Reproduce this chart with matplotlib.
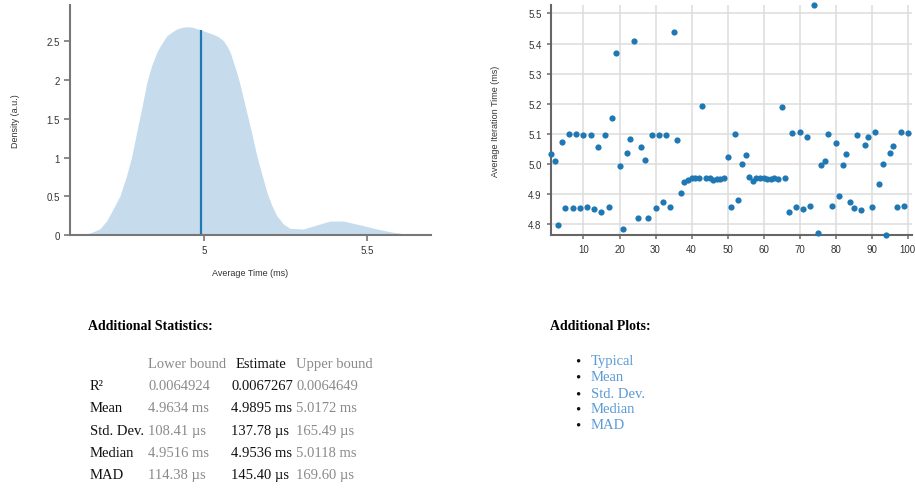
import matplotlib.pyplot as plt
import numpy as np

# density estimate (ms, a.u.)
dens_t = [4.600, 4.624, 4.650, 4.680, 4.701, 4.721, 4.742, 4.762, 4.778, 4.793,
          4.808, 4.824, 4.839, 4.855, 4.865, 4.885, 4.901, 4.916, 4.931, 4.947,
          4.967, 4.988, 5.008, 5.029, 5.044, 5.059, 5.070, 5.080, 5.090, 5.100,
          5.111, 5.131, 5.147, 5.162, 5.177, 5.193, 5.208, 5.223, 5.244, 5.264,
          5.305, 5.346, 5.387, 5.428, 5.480, 5.531, 5.582, 5.628, 5.640]
dens_y = [0.0, 0.005, 0.026, 0.08, 0.185, 0.34, 0.51, 0.77, 1.02, 1.33,
          1.63, 1.97, 2.19, 2.36, 2.44, 2.57, 2.62, 2.66, 2.68, 2.69,
          2.68, 2.65, 2.62, 2.59, 2.56, 2.51, 2.44, 2.36, 2.23, 2.10,
          1.93, 1.58, 1.30, 1.02, 0.79, 0.55, 0.38, 0.25, 0.14, 0.086,
          0.077, 0.13, 0.18, 0.18, 0.13, 0.077, 0.034, 0.009, 0.0]
mean_est = 4.9895

# average iteration time per sample (ms)
iters = list(range(1, 101))
times = [5.033, 5.011, 4.797, 5.074, 4.853, 5.100, 4.853, 5.100, 4.853, 5.097,
         4.856, 5.097, 4.850, 5.057, 4.841, 5.097, 4.856, 5.153, 5.367, 4.994,
         4.783, 5.037, 5.084, 5.407, 4.820, 5.057, 5.014, 4.820, 5.097, 4.853,
         5.097, 4.873, 5.097, 4.856, 5.437, 5.080, 4.903, 4.940, 4.946, 4.953,
         4.954, 4.955, 5.193, 4.953, 4.953, 4.946, 4.949, 4.949, 4.953, 5.024,
         4.856, 5.100, 4.880, 5.000, 5.030, 4.956, 4.943, 4.953, 4.953, 4.953,
         4.950, 4.950, 4.953, 4.950, 5.190, 4.953, 4.840, 5.103, 4.856, 5.107,
         4.850, 5.090, 4.860, 5.528, 4.770, 4.997, 5.011, 5.100, 4.860, 5.070,
         4.893, 4.997, 5.034, 4.873, 4.853, 5.097, 4.846, 5.064, 5.090, 4.856,
         5.107, 4.933, 5.000, 4.764, 5.037, 5.060, 4.856, 5.107, 4.860, 5.103]

stat_names = ['R²', 'Mean', 'Std. Dev.', 'Median', 'MAD']
lower = ['0.0064924', '4.9634 ms', '108.41 µs', '4.9516 ms', '114.38 µs']
estimate = ['0.0067267', '4.9895 ms', '137.78 µs', '4.9536 ms', '145.40 µs']
upper = ['0.0064649', '5.0172 ms', '165.49 µs', '5.0118 ms', '169.60 µs']
plot_links = ['Typical', 'Mean', 'Std. Dev.', 'Median', 'MAD']

plt.rcParams['font.family'] = ['Liberation Sans', 'DejaVu Sans']

W, H = 915, 489
fig = plt.figure(figsize=(W / 100, H / 100), dpi=100)

def box(x0, y0, x1, y1):
    return [x0 / W, 1 - y1 / H, (x1 - x0) / W, (y1 - y0) / H]

blue = '#1f78b4'
spine_c = '#777777'
tick_c = '#333333'

# left: density plot
ax1 = fig.add_axes(box(70, 6, 431, 236))
ax1.fill_between(dens_t, dens_y, color='#c6dbec', lw=0)
ax1.vlines(mean_est, 0, np.interp(mean_est, dens_t, dens_y), color=blue, lw=1.6)
ax1.set_xlim(4.588, 5.697)
ax1.set_ylim(0, 2.97)
ax1.set_xticks([5, 5.5])
ax1.set_xticklabels(['5', '5.5'])
ax1.set_yticks([0, 0.5, 1, 1.5, 2, 2.5])
ax1.set_yticklabels(['0', '0.5', '1', '1.5', '2', '2.5'])
ax1.set_xlabel('Average Time (ms)', fontsize=6.5, color=tick_c, labelpad=9)
ax1.set_ylabel('Density (a.u.)', fontsize=6.5, color=tick_c, labelpad=19)
for s in ['top', 'right']:
    ax1.spines[s].set_visible(False)
for s in ['left', 'bottom']:
    ax1.spines[s].set_color(spine_c)
    ax1.spines[s].set_linewidth(1.5)
ax1.tick_params(labelsize=7, colors=spine_c, labelcolor=tick_c, length=4, width=1.2)

# right: iteration times
ax2 = fig.add_axes(box(550.7, 6, 911.7, 236))
ax2.grid(True, color='#dddddd', lw=1.1)
ax2.set_axisbelow(True)
ax2.scatter(iters, times, s=20, color=blue, zorder=3, clip_on=False, lw=0)
ax2.set_xlim(0.9, 101.1)
ax2.set_ylim(min(times), max(times))
ax2.set_xticks(range(10, 101, 10))
ax2.set_yticks([4.8, 4.9, 5.0, 5.1, 5.2, 5.3, 5.4, 5.5])
ax2.set_yticklabels(['4.8', '4.9', '5.0', '5.1', '5.2', '5.3', '5.4', '5.5'])
ax2.set_ylabel('Average Iteration Time (ms)', fontsize=6.5, color=tick_c, labelpad=20)
for s in ['top', 'right']:
    ax2.spines[s].set_visible(False)
for s in ['left', 'bottom']:
    ax2.spines[s].set_color('#666666')
    ax2.spines[s].set_linewidth(1.5)
ax2.tick_params(labelsize=7, colors=spine_c, labelcolor=tick_c, length=3, width=1.2)

# lower part: html-like text
serif = 'Liberation Serif'
def txt(x, y, s, **kw):
    kw.setdefault('fontsize', 10.5)
    kw.setdefault('family', serif)
    fig.text(x / W, 1 - y / H, s, va='center', ha='left', **kw)

txt(88, 326.5, 'Additional Statistics:', weight='bold', fontsize=10)
grey = '#8a8a8a'
txt(148.5, 364.5, 'Lower bound', color=grey)
txt(235.5, 364.5, 'Estimate', color='#111111')
txt(296, 364.5, 'Upper bound', color=grey)
row_y = [387, 409, 431.5, 453.5, 475.5]
for i in range(len(stat_names)):
    txt(89.5, row_y[i], stat_names[i], color='#111111')
    txt(148.5, row_y[i], lower[i], color=grey)
    txt(231, row_y[i], estimate[i], color='#111111')
    txt(296.5, row_y[i], upper[i], color=grey)

txt(550.5, 326.5, 'Additional Plots:', weight='bold', fontsize=10)
link_y = [362, 378, 394.5, 410, 426]
for i in range(len(plot_links)):
    txt(575.5, link_y[i], '•', color='#111111')
    txt(591, link_y[i], plot_links[i], color='#5b9bd5')

fig.savefig('out.png', dpi=100)
